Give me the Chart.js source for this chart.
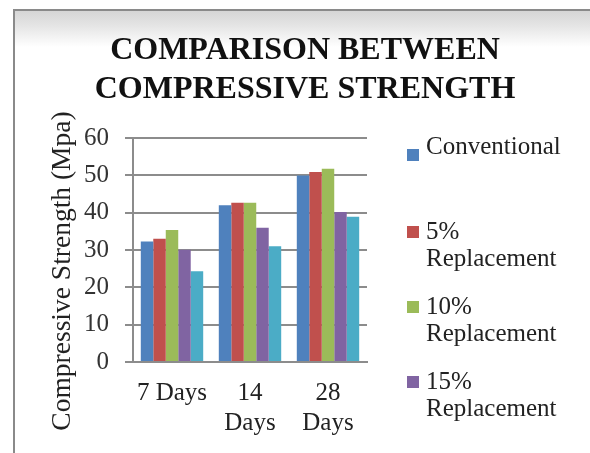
<!DOCTYPE html>
<html>
<head>
<meta charset="utf-8">
<script src="https://cdn.jsdelivr.net/npm/chart.js@4/dist/chart.umd.min.js"></script>
<style>
  html, body { margin: 0; padding: 0; background: #fff; }
  #wrap { position: relative; width: 590px; height: 453px; overflow: hidden; }
  #frame {
    position: absolute; left: 13px; top: 9px; right: -2px; bottom: -2px;
    border-left: 2px solid #8a8a8a; border-top: 2px solid #8a8a8a;
    background: linear-gradient(to bottom, #d6d6d6 0px, #e4e4e4 14px, #fff 36px);
  }
  canvas { position: absolute; left: 0; top: 0; }
</style>
</head>
<body>
<div id="wrap">
  <div id="frame"></div>
  <canvas id="strengthChart" width="590" height="453"></canvas>
</div>
<script>
// Data
const categories = ['7 Days', ['14', 'Days'], ['28', 'Days']];
const seriesNames = ['Conventional', '5% Replacement', '10% Replacement', '15% Replacement', '20% Replacement'];
const conventional = [32.3, 42.0, 50.0];
const replace5 = [33.0, 42.7, 50.9];
const replace10 = [35.4, 42.7, 51.8];
const replace15 = [30.1, 36.0, 40.2];
const replace20 = [24.3, 31.0, 38.9];
const colors = ['#4f81bd', '#c0504d', '#9bbb59', '#8064a2', '#4bacc6'];

const serif = "'Liberation Serif'";

// Legend and y title drawn by hand, Excel style
const extras = {
    id: 'extras',
    afterDraw(chart) {
        const ctx = chart.ctx;
        const x0 = chart.chartArea.right + 40;
        const lines = [['Conventional'], ['5%', 'Replacement'], ['10%', 'Replacement'], ['15%', 'Replacement']];
        const firstLine = [147, 232, 307, 382];
        ctx.save();
        ctx.font = '25px ' + serif;
        ctx.textBaseline = 'middle';
        lines.forEach(function(txt, i) {
            const y = firstLine[i];
            ctx.fillStyle = colors[i];
            ctx.fillRect(x0, i === 0 ? y + 2 : y - 6, 12, 12);
            ctx.fillStyle = '#222';
            txt.forEach(function(t, j) {
                ctx.fillText(t, x0 + 19, y + j * 27);
            });
        });
        // axis title
        ctx.translate(63, 271);
        ctx.rotate(-Math.PI / 2);
        ctx.textAlign = 'center';
        ctx.font = '27.5px ' + serif;
        ctx.fillText('Compressive Strength (Mpa)', 0, 0);
        ctx.restore();
    }
};

new Chart(document.getElementById('strengthChart'), {
    type: 'bar',
    data: {
        labels: categories,
        datasets: [conventional, replace5, replace10, replace15, replace20].map(function(d, i) {
            return {
                label: seriesNames[i],
                data: d,
                backgroundColor: colors[i],
                borderWidth: 0,
                barPercentage: 1.0,
                categoryPercentage: 0.8
            };
        })
    },
    options: {
        responsive: false,
        animation: false,
        layout: { padding: { left: 20, top: 10, right: 0, bottom: 0 } },
        plugins: {
            legend: { display: false },
            tooltip: { enabled: false },
            title: {
                display: true,
                text: ['COMPARISON BETWEEN', 'COMPRESSIVE STRENGTH'],
                color: '#111',
                font: { family: serif, size: 32, weight: 'bold', lineHeight: 1.22 },
                padding: { top: 21, bottom: 29 }
            }
        },
        scales: {
            x: {
                grid: { display: false, drawTicks: false },
                border: { display: true, color: '#8c8c8c', width: 2 },
                ticks: { color: '#222', padding: 16, maxRotation: 0, autoSkip: false,
                         font: { family: serif, size: 25, lineHeight: 1.2 } },
                afterFit: function(s) { s.height = 91; }
            },
            y: {
                min: 0,
                max: 60,
                ticks: { stepSize: 10, color: '#333', padding: 16,
                         font: { family: serif, size: 25 } },
                grid: { color: '#8c8c8c', lineWidth: 2, tickLength: 8 },
                border: { display: true, color: '#8c8c8c', width: 2 },
                afterFit: function(s) { s.width = 113; }
            },
            side: {
                position: 'right',
                display: true,
                ticks: { display: false },
                grid: { display: false, drawTicks: false },
                border: { display: false },
                afterFit: function(s) { s.width = 223; }
            }
        }
    },
    plugins: [extras]
});
</script>
</body>
</html>
